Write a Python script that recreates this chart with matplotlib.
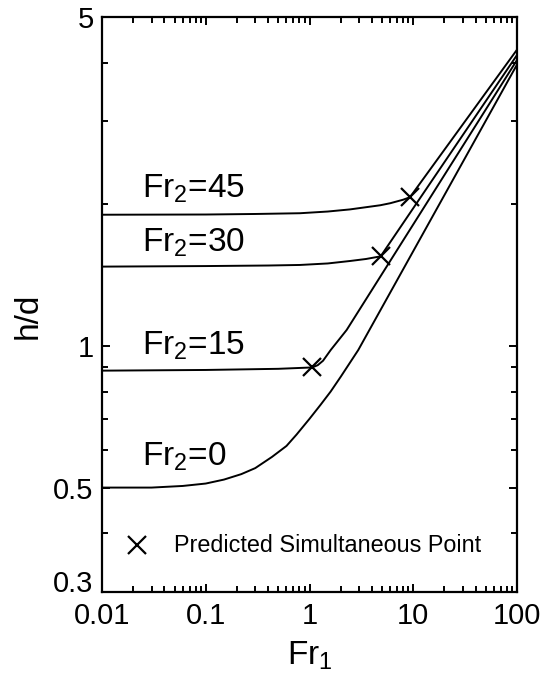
import matplotlib
matplotlib.use("Agg")
import matplotlib.pyplot as plt
from matplotlib.ticker import FixedLocator, NullFormatter
from matplotlib.transforms import ScaledTranslation

plt.rcParams["font.family"] = ["Liberation Sans", "DejaVu Sans"]
plt.rcParams["mathtext.fontset"] = "custom"
plt.rcParams["mathtext.rm"] = "Liberation Sans"
plt.rcParams["mathtext.it"] = "Liberation Sans:italic"

# curves (Fr1, h/d)
fr0_x = [0.01, 0.03, 0.06, 0.1, 0.15, 0.22, 0.3, 0.435, 0.6, 0.75, 1.0, 1.28, 1.6, 2.0, 2.95, 100]
fr0_y = [0.50, 0.50, 0.504, 0.51, 0.52, 0.534, 0.55, 0.581, 0.613, 0.648, 0.70, 0.75, 0.80, 0.86, 0.98, 3.96]

fr15_x = [0.01, 0.1, 0.5, 1.06, 1.2, 1.35, 1.6, 2.28, 100]
fr15_y = [0.886, 0.889, 0.894, 0.90, 0.91, 0.93, 0.98, 1.081, 4.05]

fr30_x = [0.01, 0.1, 0.4, 0.81, 1.5, 2.45, 3.5, 4.85, 100]
fr30_y = [1.474, 1.478, 1.482, 1.486, 1.497, 1.515, 1.53, 1.55, 4.15]

fr45_x = [0.01, 0.1, 0.3, 0.81, 1.5, 2.45, 4.8, 6.0, 8.0, 9.3, 100]
fr45_y = [1.90, 1.902, 1.907, 1.914, 1.93, 1.95, 1.99, 2.01, 2.045, 2.07, 4.26]

# predicted simultaneous points
cross_x = [9.3, 4.85, 1.06]
cross_y = [2.07, 1.55, 0.90]

labels = [r"Fr$_{\mathregular{2}}$=45", r"Fr$_{\mathregular{2}}$=30",
          r"Fr$_{\mathregular{2}}$=15", r"Fr$_{\mathregular{2}}$=0"]
label_y = [2.07, 1.586, 0.957, 0.558]

fig = plt.figure(figsize=(5.45, 6.87), dpi=100)
ax = fig.add_axes([0.1872, 0.1383, 0.9486 - 0.1872, 0.9753 - 0.1383])
ax.set_xscale("log")
ax.set_yscale("log")

for xs, ys in [(fr0_x, fr0_y), (fr15_x, fr15_y), (fr30_x, fr30_y), (fr45_x, fr45_y)]:
    ax.plot(xs, ys, color="black", lw=1.4)
ax.plot(cross_x, cross_y, "x", color="black", ms=13, mew=1.6)

for lab, yy in zip(labels, label_y):
    ax.text(0.0245, yy, lab, fontsize=24, va="baseline", ha="left")

# legend entry
ax.plot([0.0217], [0.378], "x", color="black", ms=13, mew=1.6)
ax.text(0.0494, 0.365, "Predicted Simultaneous Point", fontsize=16.8, va="baseline")

ax.set_xlim(0.01, 100)
ax.set_ylim(0.3, 5)
ax.set_xticks([0.01, 0.1, 1, 10, 100])
ax.set_xticklabels(["0.01", "0.1", "1", "10", "100"])
ax.set_yticks([0.3, 0.5, 1, 5])
ax.set_yticklabels(["0.3", "0.5", "1", "5"])
ax.yaxis.set_minor_locator(FixedLocator([0.4, 0.6, 0.7, 0.8, 0.9, 2, 3, 4]))
ax.yaxis.set_minor_formatter(NullFormatter())
ax.tick_params(which="both", direction="in", top=True, right=True, width=1.4, labelsize=21)
ax.tick_params(axis="x", which="major", pad=7)
ax.tick_params(axis="y", which="major", pad=6)
ax.tick_params(which="major", length=6)
ax.tick_params(which="minor", length=4)
for s in ax.spines.values():
    s.set_linewidth(1.6)

# lift the bottom y label a little so it clears "0.01"
lbl = ax.get_yticklabels()[0]
lbl.set_transform(lbl.get_transform() + ScaledTranslation(0, 8 / 72, fig.dpi_scale_trans))

ax.set_xlabel(r"Fr$_{\mathregular{1}}$", fontsize=24)
ax.set_ylabel("h/d", fontsize=24)
ax.xaxis.set_label_coords(0.5, -0.082)
ax.yaxis.set_label_coords(-0.14, 0.48)

fig.savefig("out.png", dpi=100)
